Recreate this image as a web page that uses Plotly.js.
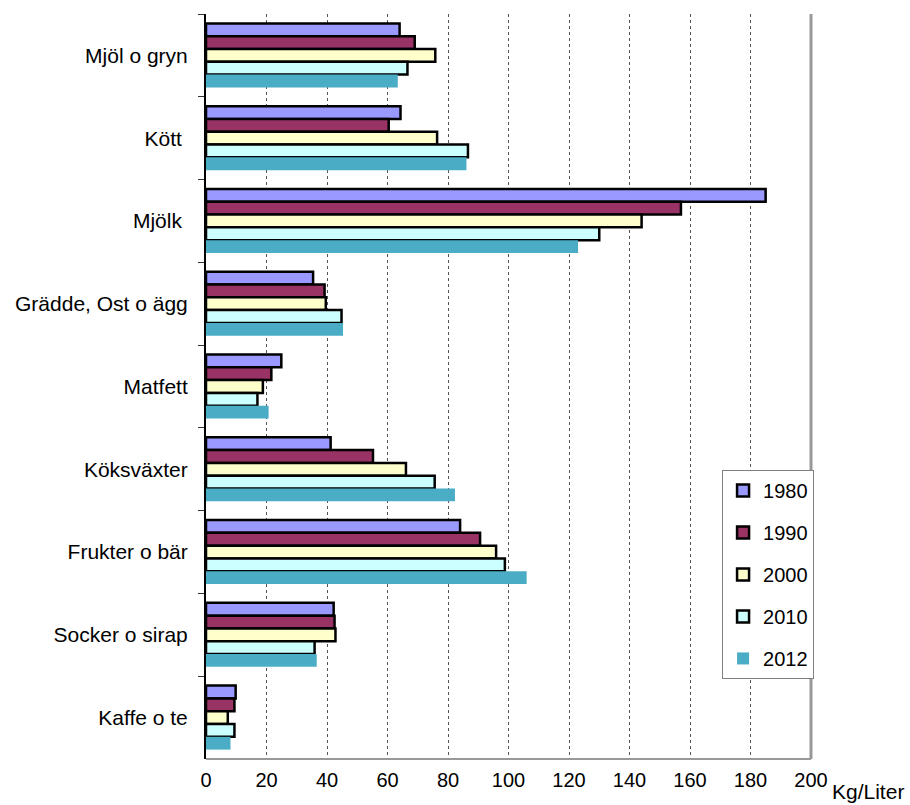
<!DOCTYPE html>
<html>
<head>
<meta charset="utf-8">
<script src="https://cdn.plot.ly/plotly-3.0.1.min.js"></script>
<style>html,body{margin:0;padding:0;background:#fff;}#chart{width:910px;height:805px;}</style>
</head>
<body>
<div id="chart"></div>
<script>
const categories = ["Mjöl o gryn", "Kött\u00a0", "Mjölk\u00a0", "Grädde, Ost o ägg", "Matfett", "Köksväxter", "Frukter o bär", "Socker o sirap", "Kaffe o te"];
const years = ["1980", "1990", "2000", "2010", "2012"];
const v1980 = [64, 64.3, 185, 35.4, 24.9, 41.2, 84, 42.2, 9.8];
const v1990 = [69, 60.4, 157, 39.2, 21.6, 55.2, 90.6, 42.5, 9.4];
const v2000 = [75.8, 76.4, 144, 39.6, 18.8, 66.1, 95.9, 42.8, 7.2];
const v2010 = [66.6, 86.6, 130, 44.8, 17, 75.6, 98.8, 35.9, 9.4];
const v2012 = [63.4, 86.1, 123, 45.3, 20.7, 82.3, 106, 36.6, 8.1];
const xTicks = [0, 20, 40, 60, 80, 100, 120, 140, 160, 180, 200];

const series = [v1980, v1990, v2000, v2010, v2012];
const fills = ["#9999FF", "#993366", "#FFFFCC", "#CCFFFF", "#4BACC6"];
const lineW = [2.5, 2.5, 2.5, 2.5, 0];
const FONT = "Liberation Sans, Arial, sans-serif";

const traces = series.map((vals, i) => ({
  type: "bar",
  orientation: "h",
  name: years[i],
  x: vals,
  y: categories,
  legendgroup: years[i],
  marker: {color: fills[i], line: {color: "#000", width: lineW[i]}},
  hoverinfo: "x+y+name"
}));

const layout = {
  width: 910, height: 805,
  margin: {l: 206, r: 99, t: 14, b: 46, pad: 0},
  paper_bgcolor: "#fff", plot_bgcolor: "#fff",
  font: {family: FONT, size: 19, color: "#000"},
  barmode: "group", bargap: 0.227, bargroupgap: 0,
  showlegend: true,
  legend: {
    x: 0.853, xanchor: "left", y: 0.388, yanchor: "top",
    bgcolor: "#fff", bordercolor: "#808080", borderwidth: 1,
    traceorder: "grouped", tracegroupgap: 13, itemwidth: 30,
    font: {family: FONT, size: 20, color: "#000"}
  },
  xaxis: {
    range: [0, 200], tickvals: xTicks, ticktext: xTicks.map(String),
    showgrid: true, gridcolor: "#555", griddash: "dot", gridwidth: 1,
    zeroline: false, showline: false, ticks: "",
    tickfont: {family: FONT, size: 20}, ticklabelstandoff: 7,
    fixedrange: true
  },
  xaxis2: {
    range: [0, 200], overlaying: "x", side: "top", anchor: "y",
    tickvals: xTicks, showticklabels: false, showgrid: false, zeroline: false,
    showline: true, linecolor: "#000", linewidth: 1.5,
    ticks: "outside", ticklen: 6, tickcolor: "#555", tickwidth: 1
  },
  yaxis: {
    autorange: "reversed", type: "category",
    showgrid: false, zeroline: false,
    showline: true, linecolor: "#000", linewidth: 2,
    ticks: "outside", tickson: "boundaries", ticklen: 6, tickcolor: "#333", tickwidth: 1,
    tickfont: {family: FONT, size: 21}, ticklabelstandoff: 12
  },
  shapes: [
    {type: "line", xref: "paper", yref: "paper", x0: 1, x1: 1, y0: 0, y1: 1,
     line: {color: "#999", width: 3}},
    {type: "line", xref: "paper", yref: "paper", x0: 0, x1: 1, y0: 0, y1: 0,
     line: {color: "#999", width: 2}}
  ],
  annotations: [
    {text: "Kg/Liter", xref: "paper", yref: "paper", x: 1, y: 0,
     xanchor: "left", yanchor: "top", xshift: 19, yshift: -19, showarrow: false,
     font: {family: FONT, size: 21, color: "#000"}}
  ]
};

Plotly.newPlot("chart", traces, layout, {displayModeBar: false, staticPlot: true});
</script>
</body>
</html>
